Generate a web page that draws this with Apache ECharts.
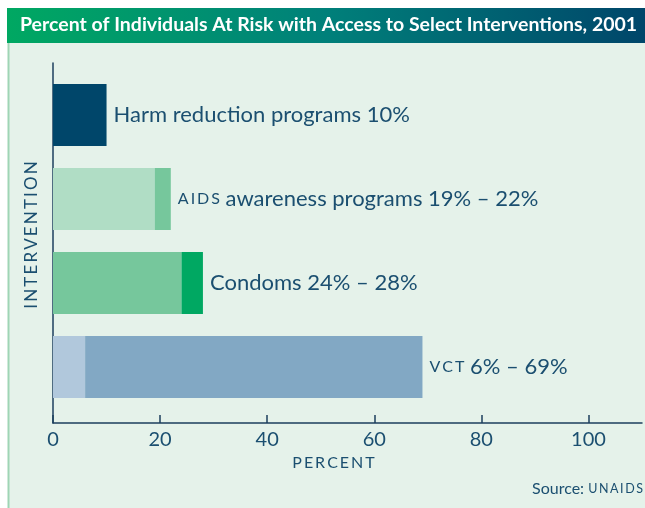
<!DOCTYPE html>
<html>
<head>
<meta charset="utf-8">
<script src="https://cdn.jsdelivr.net/npm/echarts@6/dist/echarts.min.js"></script>
<style>
html,body{margin:0;padding:0;background:#fff;}
#chart{width:645px;height:508px;}
</style>
</head>
<body>
<div id="chart"></div>
<script>
// values
var categories = ['Harm reduction programs', 'AIDS awareness programs', 'Condoms', 'VCT'];
var lowValues = [10, 19, 24, 6];
var highValues = [10, 22, 28, 69];
var labelTexts = [
  'Harm reduction programs 10%',
  '{sc|A\u2009I\u2009D\u2009S} awareness programs 19% – 22%',
  'Condoms 24% – 28%',
  '{sc|V\u2009C\u2009T} 6% – 69%'
];
var xTicks = [0, 20, 40, 60, 80, 100];

// colours
var lowColors = ['#00466a', '#b0ddc5', '#76c79c', '#b1c8dc'];
var highColors = ['#00466a', '#76c79c', '#00a862', '#82a8c4'];
var textColor = '#1b4f70';
var axisColor = '#1d3f5e';
var font = 'Lato';

let chart = echarts.init(document.getElementById('chart'));

let option = {
  animation: false,
  title: [{
    text: 'Percent of Individuals At Risk with Access to Select Interventions, 2001',
    left: 20,
    top: 15,
    padding: 0,
    textStyle: {color: '#fff', fontWeight: 'bold', fontSize: 19.5, fontFamily: font}
  }, {
    text: 'Source: {sc|U\u2009N\u2009A\u2009I\u2009D\u2009S}',
    right: 2,
    top: 481,
    padding: 0,
    textStyle: {
      color: textColor, fontWeight: 'normal', fontSize: 16, fontFamily: font,
      rich: {sc: {fontSize: 12.5, color: textColor, fontFamily: font}}
    }
  }],
  graphic: [{
    type: 'rect', z: -10,
    shape: {x: 7, y: 8, width: 638, height: 35},
    style: {
      fill: {
        type: 'linear', x: 0, y: 0, x2: 1, y2: 0,
        colorStops: [{offset: 0, color: '#00a862'}, {offset: 0.5, color: '#00807a'}, {offset: 1, color: '#00466a'}]
      }
    }
  }, {
    type: 'rect', z: -10,
    shape: {x: 8, y: 43, width: 637, height: 465},
    style: {fill: '#e5f2ea'}
  }, {
    type: 'line', z: -9,
    shape: {x1: 8.5, y1: 43, x2: 8.5, y2: 508},
    style: {stroke: '#9fd5b5', lineWidth: 2}
  }],
  grid: [
    {left: 53, top: 63, width: 589, height: 360},
    {left: 53, top: 73, width: 589, height: 336}
  ],
  xAxis: [{
    gridIndex: 0,
    type: 'value',
    min: 0,
    max: 110,
    axisLine: {show: true, lineStyle: {color: axisColor, width: 1.5}},
    axisTick: {show: true, inside: true, length: 8, customValues: xTicks, lineStyle: {color: axisColor, width: 1.5}},
    axisLabel: {customValues: xTicks, color: textColor, fontSize: 20, fontFamily: font, margin: 7},
    splitLine: {show: false},
    name: 'P\u2009E\u2009R\u2009C\u2009E\u2009N\u2009T',
    nameLocation: 'middle',
    nameGap: 30,
    nameTextStyle: {color: textColor, fontSize: 16, fontFamily: font, padding: [0, 28, 0, 0]}
  }, {
    gridIndex: 1,
    type: 'value',
    min: 0,
    max: 110,
    show: false
  }],
  yAxis: [{
    gridIndex: 0,
    type: 'value',
    min: 0,
    max: 1,
    axisLine: {show: true, lineStyle: {color: axisColor, width: 1.5}},
    axisTick: {show: false},
    axisLabel: {show: false},
    splitLine: {show: false},
    name: 'I\u2009N\u2009T\u2009E\u2009R\u2009V\u2009E\u2009N\u2009T\u2009I\u2009O\u2009N',
    nameLocation: 'middle',
    nameGap: 13,
    nameTextStyle: {color: textColor, fontSize: 17, fontFamily: font, padding: [0, 0, 0, 16]}
  }, {
    gridIndex: 1,
    type: 'category',
    inverse: true,
    data: categories,
    show: false
  }],
  series: [{
    name: 'low',
    type: 'bar',
    xAxisIndex: 1,
    yAxisIndex: 1,
    stack: 'range',
    barWidth: 62,
    data: lowValues.map(function (v, i) {
      return {value: v, itemStyle: {color: lowColors[i]}};
    })
  }, {
    name: 'high',
    type: 'bar',
    xAxisIndex: 1,
    yAxisIndex: 1,
    stack: 'range',
    barWidth: 62,
    data: highValues.map(function (v, i) {
      return {value: v - lowValues[i], itemStyle: {color: highColors[i]}};
    }),
    label: {
      show: true,
      position: 'right',
      distance: 7,
      color: textColor,
      fontSize: 22,
      fontFamily: font,
      formatter: function (p) { return labelTexts[p.dataIndex]; },
      rich: {sc: {fontSize: 16, color: textColor, fontFamily: font}}
    }
  }]
};

chart.setOption(option);
</script>
</body>
</html>
